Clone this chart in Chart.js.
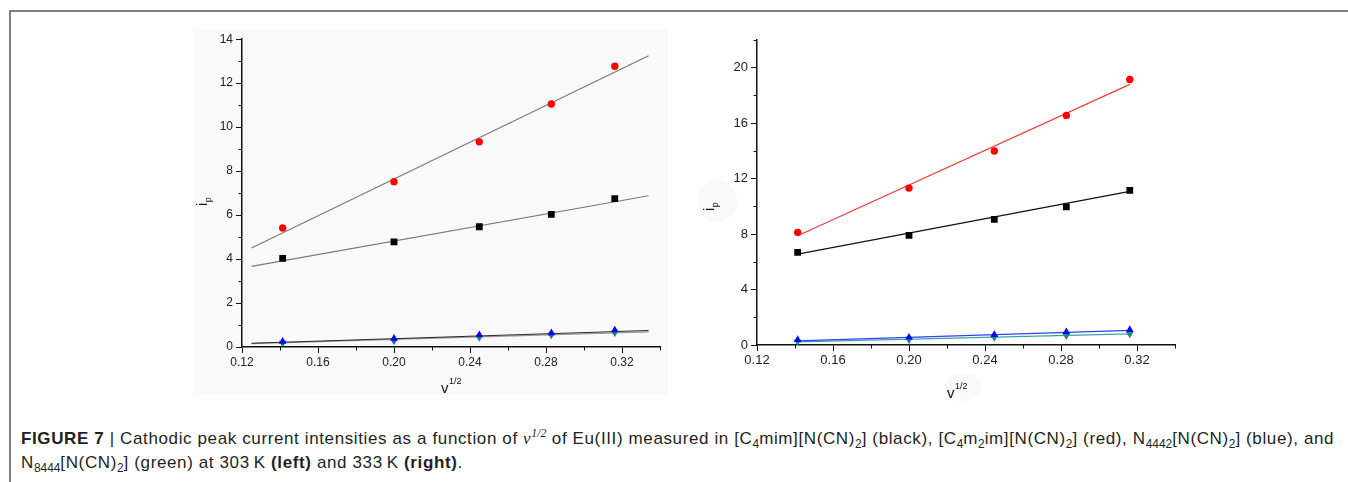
<!DOCTYPE html>
<html>
<head>
<meta charset="utf-8">
<script src="https://cdn.jsdelivr.net/npm/chart.js@4.4.1/dist/chart.umd.min.js"></script>
<style>
  html, body { margin: 0; padding: 0; background: #fff; }
  body { width: 1348px; height: 482px; position: relative; overflow: hidden; }
  #frame { position: absolute; left: 9px; top: 10px; width: 1345px; height: 480px;
           border-top: 2px solid #808080; border-left: 2px solid #808080; }
  #left { position: absolute; left: 193px; top: 29px; background: #f9f9f9; }
  #right { position: absolute; left: 690px; top: 29px; }
  #caption { position: absolute; left: 21px; top: 427px; white-space: nowrap;
             font-family: 'Liberation Sans', Arial, sans-serif; font-size: 17px;
             letter-spacing: 0.62px; line-height: 24px; color: #231f20; }
  #caption sub { font-size: 70%; vertical-align: -4px; line-height: 0; letter-spacing: 0; }
  #caption sup { font-size: 70%; vertical-align: 7px; line-height: 0; letter-spacing: 0; }
  .nu { font-family: 'Liberation Serif', serif; font-style: italic; }
</style>
</head>
<body>
<div id="frame"></div>
<canvas id="left" width="475" height="366"></canvas>
<canvas id="right" width="495" height="372"></canvas>
<div id="caption"><b>FIGURE 7</b> | Cathodic peak current intensities as a function of <span class="nu">ν<sup>1/2</sup></span> of Eu(III) measured in [C<sub>4</sub>mim][N(CN)<sub>2</sub>] (black), [C<sub>4</sub>m<sub>2</sub>im][N(CN)<sub>2</sub>] (red), N<sub>4442</sub>[N(CN)<sub>2</sub>] (blue), and<br>N<sub>8444</sub>[N(CN)<sub>2</sub>] (green) at 303&#8201;K <b>(left)</b> and 333&#8201;K <b>(right)</b>.</div>

<script>
/* DONNEES */
// v^1/2 des vitesses de balayage
const sqrtV = [0.1414, 0.2000, 0.2449, 0.2828, 0.3162];

// 303 K (gauche)
const blackLeft = [4.03, 4.78, 5.47, 6.03, 6.75];
const redLeft   = [5.41, 7.52, 9.33, 11.05, 12.77];
const blueLeft  = [0.25, 0.39, 0.55, 0.64, 0.77];
const greenLeft = [0.18, 0.28, 0.44, 0.55, 0.65];
// droites de regression (extremites)
const fitXLeft     = [0.125, 0.334];
const fitRedLeft   = [4.50, 13.25];
const fitBlackLeft = [3.67, 6.88];
const fitBlueLeft  = [0.17, 0.75];
const fitGreenLeft = [0.15, 0.69];

// 333 K (droite)
const blackRight = [6.67, 7.90, 9.05, 9.95, 11.14];
const redRight   = [8.12, 11.31, 13.98, 16.55, 19.14];
const blueRight  = [0.38, 0.55, 0.74, 0.95, 1.10];
const greenRight = [0.24, 0.38, 0.55, 0.67, 0.79];
const fitXRight     = [0.1414, 0.3162];
const fitRedRight   = [7.88, 18.79];
const fitBlackRight = [6.55, 11.07];
const fitBlueRight  = [0.30, 1.05];
const fitGreenRight = [0.22, 0.80];

// graduations
const xTicks = [0.12, 0.16, 0.20, 0.24, 0.28, 0.32];
const xMinor = [0.14, 0.18, 0.22, 0.26, 0.30, 0.34];
const yTicksLeft = [0, 2, 4, 6, 8, 10, 12, 14];
const yMinorLeft = [1, 3, 5, 7, 9, 11, 13];
const yTicksRight = [0, 4, 8, 12, 16, 20];
const yMinorRight = [2, 6, 10, 14, 18, 22];

Chart.defaults.font.family = "'Liberation Sans', Arial, sans-serif";
Chart.defaults.color = '#222';

function pts(xs, ys) {
  return ys.map((y, i) => ({ x: xs[i], y: y }));
}

/* petites graduations + titres d'axes */
const extras = {
  id: 'extras',
  beforeDraw(chart, args, o) {
    const ctx = chart.ctx;
    (o.blobs || []).forEach(b => {
      ctx.save();
      ctx.fillStyle = '#f9f9f9';
      ctx.beginPath();
      ctx.ellipse(b[0], b[1], b[2], b[3], 0, 0, Math.PI * 2);
      ctx.fill();
      ctx.restore();
    });
  },
  afterDraw(chart, args, o) {
    const ctx = chart.ctx;
    const a = chart.chartArea;
    const sx = chart.scales.x, sy = chart.scales.y;
    ctx.save();
    ctx.strokeStyle = o.tickColor;
    ctx.lineWidth = 1;
    ctx.beginPath();
    o.xMinor.forEach(v => {
      const px = Math.round(sx.getPixelForValue(v)) + 0.5;
      ctx.moveTo(px, a.bottom);
      ctx.lineTo(px, a.bottom + 3.5);
    });
    o.yMinor.forEach(v => {
      const py = Math.round(sy.getPixelForValue(v)) + 0.5;
      ctx.moveTo(a.left - 3.5, py);
      ctx.lineTo(a.left, py);
    });
    ctx.stroke();

    ctx.fillStyle = '#111';
    ctx.textBaseline = 'alphabetic';
    // titre x : v^1/2
    ctx.font = "15px 'Liberation Sans', Arial, sans-serif";
    ctx.fillText('v', o.xTitle[0], o.xTitle[1]);
    const w = ctx.measureText('v').width;
    ctx.font = "9px 'Liberation Sans', Arial, sans-serif";
    ctx.fillText('1/2', o.xTitle[0] + w + 0.5, o.xTitle[1] - 9);
    // titre y : i_p
    ctx.translate(o.yTitle[0], o.yTitle[1]);
    ctx.rotate(-Math.PI / 2);
    ctx.font = "15px 'Liberation Sans', Arial, sans-serif";
    ctx.fillText('i', 0, 0);
    const wi = ctx.measureText('i').width;
    ctx.font = "9px 'Liberation Sans', Arial, sans-serif";
    ctx.fillText('p', wi + 0.5, 4);
    ctx.restore();
  }
};

function makeConfig(s) {
  const pointSet = (data, style, color, r, rot) => ({
    data: pts(sqrtV, data),
    showLine: false,
    pointStyle: style,
    pointRotation: rot || 0,
    pointRadius: r,
    pointBackgroundColor: color,
    pointBorderColor: color,
    pointBorderWidth: 0,
    order: 1
  });
  const fitSet = (ys, color, width) => ({
    data: pts(s.fitX, ys),
    showLine: true,
    borderColor: color,
    borderWidth: width,
    pointRadius: 0,
    order: 2
  });
  return {
    type: 'scatter',
    data: {
      datasets: [
        fitSet(s.fitRed, s.lineColors[0], 1.2),
        fitSet(s.fitBlack, s.lineColors[1], 1.2),
        fitSet(s.fitBlue, s.lineColors[2], 1.2),
        fitSet(s.fitGreen, s.lineColors[3], 1.2),
        pointSet(s.red, 'circle', '#ff0000', 3.7),
        pointSet(s.black, 'rect', '#000000', 4.8),
        pointSet(s.blue, 'triangle', '#0000ff', 4.4),
        pointSet(s.green, 'triangle', s.greenColor, 4.4, 180)
      ]
    },
    options: {
      responsive: false,
      devicePixelRatio: 1,
      animation: false,
      events: [],
      layout: { padding: s.padding },
      plugins: {
        legend: { display: false },
        tooltip: { enabled: false },
        extras: {
          tickColor: '#111',
          xMinor: xMinor,
          yMinor: s.yMinor,
          xTitle: s.xTitle,
          yTitle: s.yTitle,
          blobs: s.blobs
        }
      },
      scales: {
        x: {
          type: 'linear',
          min: 0.12,
          max: 0.34,
          afterBuildTicks: sc => { sc.ticks = xTicks.map(v => ({ value: v })); },
          afterFit: sc => { sc.height = s.xHeight; },
          ticks: {
            autoSkip: false,
            maxRotation: 0,
            padding: 2,
            font: { size: s.fontSize },
            color: '#222',
            callback: v => v.toFixed(2)
          },
          grid: { drawOnChartArea: false, drawTicks: true, tickLength: 6, tickColor: '#111', tickWidth: 1 },
          border: { display: true, color: '#111', width: 1.5 }
        },
        y: {
          type: 'linear',
          min: 0,
          max: s.yMax,
          afterBuildTicks: sc => { sc.ticks = s.yTicks.map(v => ({ value: v })); },
          afterFit: sc => { sc.width = s.yWidth; },
          ticks: {
            autoSkip: false,
            padding: 3,
            font: { size: s.fontSize },
            color: '#222',
            callback: v => String(v)
          },
          grid: { drawOnChartArea: false, drawTicks: true, tickLength: 6, tickColor: '#111', tickWidth: 1 },
          border: { display: true, color: '#111', width: 1.5 }
        }
      }
    },
    plugins: [extras]
  };
}

/* GRAPHIQUE GAUCHE (303 K) */
new Chart(document.getElementById('left'), makeConfig({
  red: redLeft, black: blackLeft, blue: blueLeft, green: greenLeft,
  fitX: fitXLeft, fitRed: fitRedLeft, fitBlack: fitBlackLeft, fitBlue: fitBlueLeft, fitGreen: fitGreenLeft,
  lineColors: ['#7a7a7a', '#7a7a7a', '#2a2a2a', '#9a9a9a'],
  greenColor: '#0f8070',
  yMax: 14, yTicks: yTicksLeft, yMinor: yMinorLeft,
  padding: { left: 0, top: 8, right: 8, bottom: 0 },
  yWidth: 49, xHeight: 48, fontSize: 12,
  xTitle: [248, 364], yTitle: [14, 177],
  blobs: []
}));

/* GRAPHIQUE DROIT (333 K) */
new Chart(document.getElementById('right'), makeConfig({
  red: redRight, black: blackRight, blue: blueRight, green: greenRight,
  fitX: fitXRight, fitRed: fitRedRight, fitBlack: fitBlackRight, fitBlue: fitBlueRight, fitGreen: fitGreenRight,
  lineColors: ['#f03c3c', '#111111', '#3040ff', '#3aa3a0'],
  greenColor: '#12907e',
  yMax: 22, yTicks: yTicksRight, yMinor: yMinorRight,
  padding: { left: 0, top: 8, right: 10, bottom: 0 },
  yWidth: 67, xHeight: 56, fontSize: 13,
  xTitle: [257, 369], yTitle: [24, 182],
  blobs: [[273, 358, 19, 14], [27, 172, 20, 21]]
}));
</script>
</body>
</html>
